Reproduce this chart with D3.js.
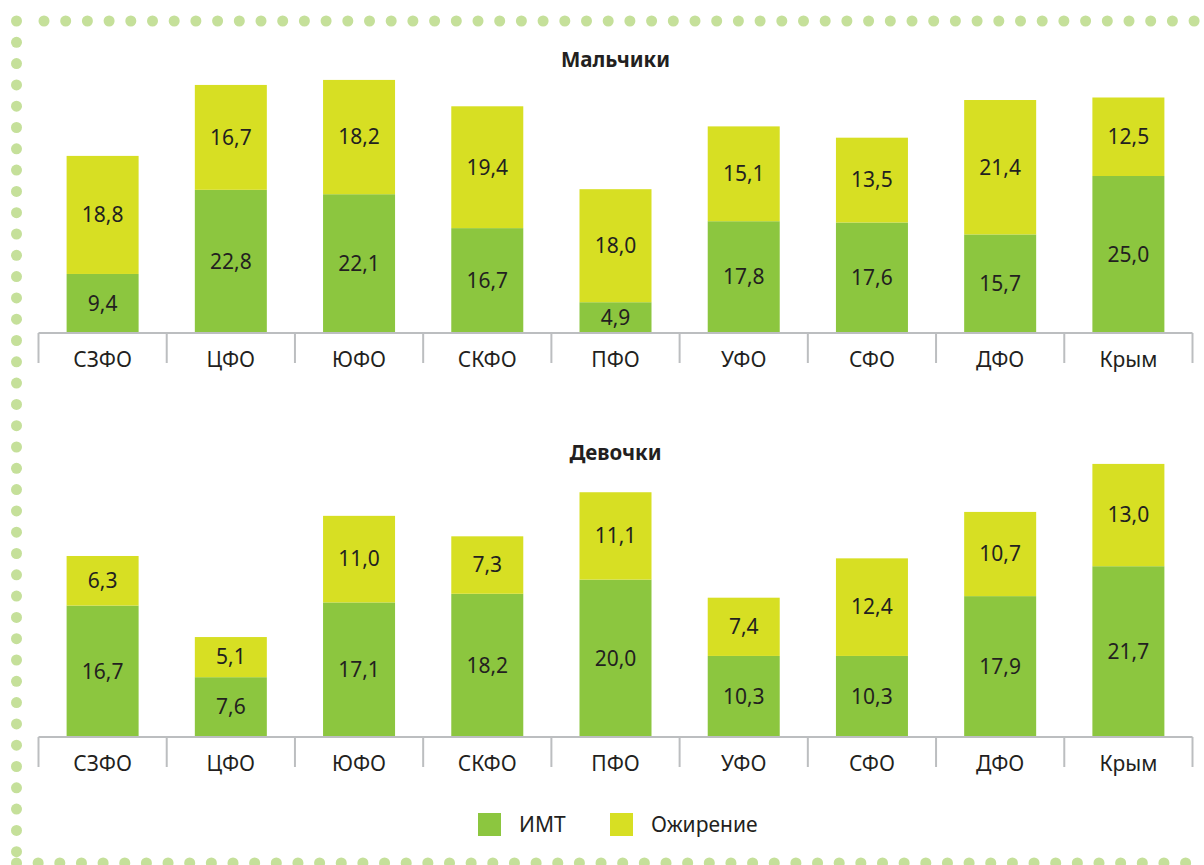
<!DOCTYPE html>
<html lang="ru">
<head>
<meta charset="utf-8">
<script src="https://cdn.jsdelivr.net/npm/d3@7"></script>
<style>
  html, body { margin: 0; padding: 0; background: #fff; }
  svg { display: block; }
  text { font-family: "Noto Sans", "Open Sans", sans-serif; fill: #231f20; }
</style>
</head>
<body>
<svg id="chart" width="1204" height="865"></svg>
<script>
// Regions (federal districts + Crimea)
const regions = ["СЗФО", "ЦФО", "ЮФО", "СКФО", "ПФО", "УФО", "СФО", "ДФО", "Крым"];

// Boys: elevated BMI share and obesity share, %
const boysBMI     = [9.4, 22.8, 22.1, 16.7, 4.9, 17.8, 17.6, 15.7, 25.0];
const boysObesity = [18.8, 16.7, 18.2, 19.4, 18.0, 15.1, 13.5, 21.4, 12.5];

// Girls: elevated BMI share and obesity share, %
const girlsBMI     = [16.7, 7.6, 17.1, 18.2, 20.0, 10.3, 10.3, 17.9, 21.7];
const girlsObesity = [6.3, 5.1, 11.0, 7.3, 11.1, 7.4, 12.4, 10.7, 13.0];

const seriesNames = ["ИМТ", "Ожирение"];
const panelTitles = ["Мальчики", "Девочки"];

const colors = { "ИМТ": "#8cc63f", "Ожирение": "#d7df23" };
const fmt = v => d3.format(".1f")(v).replace(".", ",");

const svg = d3.select("#chart");

// Dotted frame
const dotColor = "#c5e09a";
const frame = svg.append("g");
const topRow = d3.range(44, 1204, 21.7);
const leftCol = d3.range(21, 856, 21.3);
const bottomRow = d3.range(16.5, 1204, 21.65);
frame.selectAll(".dt").data(topRow).join("circle")
  .attr("cx", d => d).attr("cy", 21).attr("r", 5.5).attr("fill", dotColor);
frame.selectAll(".dl").data(leftCol).join("circle")
  .attr("cx", 16.5).attr("cy", d => d).attr("r", 5.5).attr("fill", dotColor);
frame.selectAll(".db").data(bottomRow).join("circle")
  .attr("cx", d => d).attr("cy", 863).attr("r", 5.5).attr("fill", dotColor);

const x = d3.scaleBand().domain(regions).range([38.5, 1192.5]).paddingInner(0).paddingOuter(0);
const barW = 72;

function panel(bmi, obesity, title, baseline, yMax, top, titleY) {
  const g = svg.append("g");
  const y = d3.scaleLinear().domain([0, yMax]).range([baseline, top]);

  const rows = regions.map((r, i) => ({ region: r, "ИМТ": bmi[i], "Ожирение": obesity[i] }));
  const stacked = d3.stack().keys(seriesNames)(rows);

  stacked.forEach(layer => {
    const lg = g.append("g");
    lg.selectAll("rect").data(layer).join("rect")
      .attr("x", d => x(d.data.region) + x.bandwidth() / 2 - barW / 2)
      .attr("width", barW)
      .attr("y", d => y(d[1]))
      .attr("height", d => y(d[0]) - y(d[1]))
      .attr("fill", colors[layer.key]);
    lg.selectAll("text").data(layer).join("text")
      .attr("x", d => x(d.data.region) + x.bandwidth() / 2)
      .attr("y", d => (y(d[0]) + y(d[1])) / 2)
      .attr("dy", "0.35em")
      .attr("text-anchor", "middle")
      .attr("font-size", 21)
      .text(d => fmt(d.data[layer.key]));
  });

  // Category axis with separators between regions
  const axis = g.append("g");
  axis.append("line")
    .attr("x1", x.range()[0]).attr("x2", x.range()[1])
    .attr("y1", baseline).attr("y2", baseline)
    .attr("stroke", "#bcbec0").attr("stroke-width", 2);
  const bounds = regions.map(r => x(r)).concat([x.range()[1]]);
  axis.selectAll("line.sep").data(bounds).join("line")
    .attr("class", "sep")
    .attr("x1", d => d).attr("x2", d => d)
    .attr("y1", baseline).attr("y2", baseline + 30)
    .attr("stroke", "#bcbec0").attr("stroke-width", 2);
  axis.selectAll("text").data(regions).join("text")
    .attr("x", d => x(d) + x.bandwidth() / 2)
    .attr("y", baseline + 34)
    .attr("text-anchor", "middle")
    .attr("font-size", 21)
    .text(d => d);

  g.append("text")
    .attr("x", (x.range()[0] + x.range()[1]) / 2)
    .attr("y", titleY)
    .attr("text-anchor", "middle")
    .attr("font-size", 20.5)
    .attr("font-weight", "bold")
    .text(title);
}

panel(boysBMI, boysObesity, panelTitles[0], 333, 45, 333 - 45 * 6.28, 67);
panel(girlsBMI, girlsObesity, panelTitles[1], 737, 40, 737 - 40 * 7.87, 460);

// Legend
const legend = svg.append("g");
const legendX = [478, 610];
seriesNames.forEach((s, i) => {
  legend.append("rect")
    .attr("x", legendX[i]).attr("y", 813)
    .attr("width", 23).attr("height", 23)
    .attr("fill", colors[s]);
  legend.append("text")
    .attr("x", legendX[i] + 41).attr("y", 832)
    .attr("font-size", 21)
    .text(s);
});
</script>
</body>
</html>
